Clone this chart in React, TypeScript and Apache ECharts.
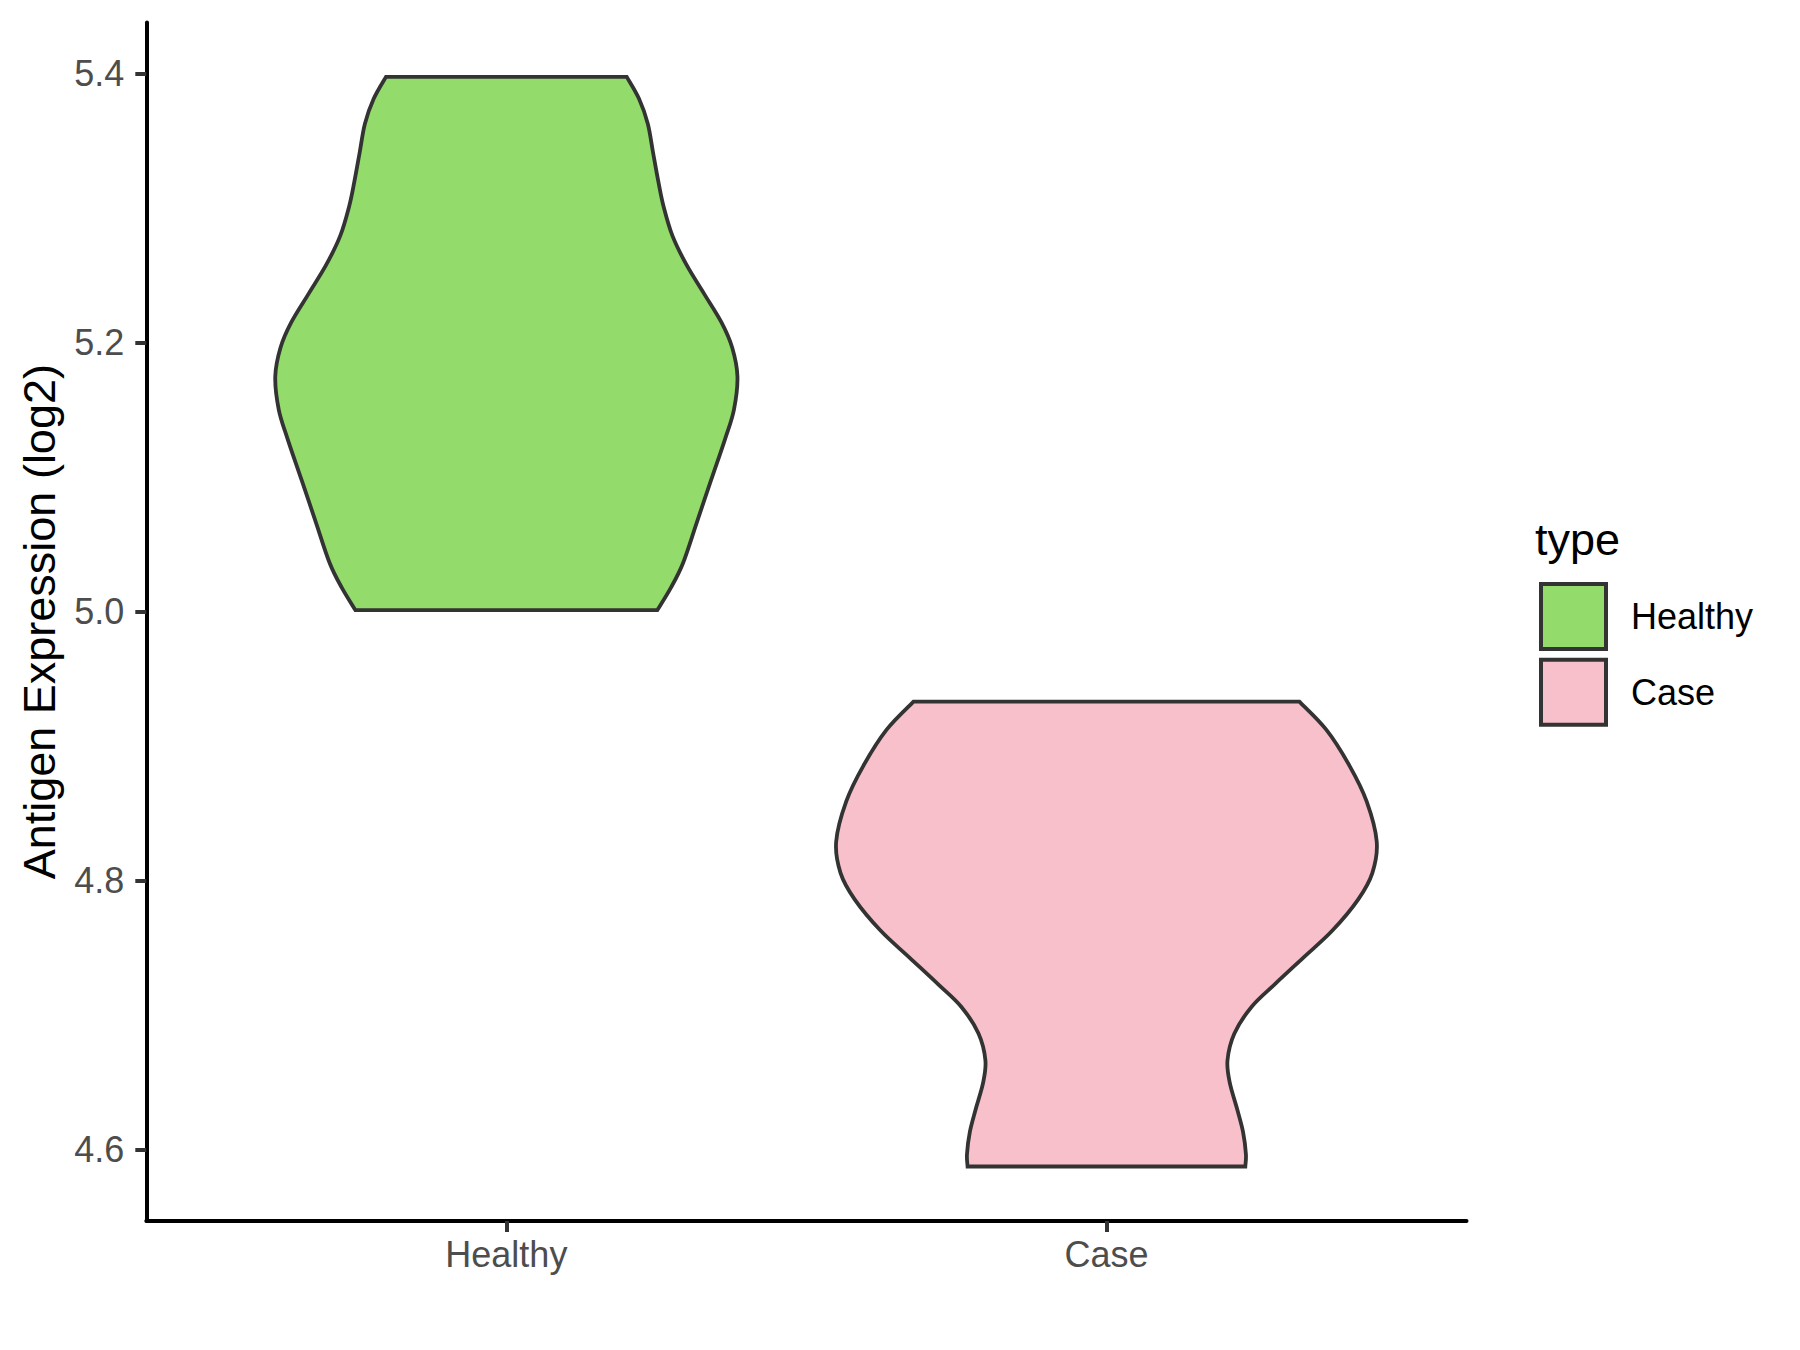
import React, { useEffect, useRef } from "react";
import * as echarts from "echarts";

// Groups on the x axis and the y-axis tick values
const CATEGORIES = ["Healthy", "Case"];
const Y_TICKS = [4.6, 4.8, 5.0, 5.2, 5.4];

// Violin outlines: expression level (log2) and half-width of the density at that level (x units)
const HEALTHY_Y = [5.3975, 5.3812, 5.3627, 5.3411, 5.3196, 5.301, 5.2795, 5.2579, 5.2364, 5.2148, 5.1963, 5.1747, 5.15, 5.1285, 5.0977, 5.0668, 5.036, 5.0175, 5.0012];
const HEALTHY_HALF = [0.2006, 0.2211, 0.2357, 0.2445, 0.2533, 0.2621, 0.2767, 0.3001, 0.3294, 0.3587, 0.3763, 0.3851, 0.3792, 0.3646, 0.3411, 0.3177, 0.2943, 0.2738, 0.2516];
const CASE_Y = [4.9331, 4.9121, 4.8856, 4.859, 4.8291, 4.8059, 4.786, 4.7628, 4.7429, 4.723, 4.7064, 4.6865, 4.6665, 4.6499, 4.63, 4.6134, 4.5969, 4.5876];
const CASE_HALF = [0.3215, 0.3666, 0.4049, 0.4336, 0.4504, 0.4432, 0.4193, 0.3761, 0.3282, 0.2803, 0.242, 0.2132, 0.2017, 0.2055, 0.218, 0.2276, 0.2324, 0.2314];

const COLORS = ["#93DB6B", "#F7C0CB"];
const OUTLINE = "#333333";
const FONT = "'Liberation Sans', Arial, Helvetica, sans-serif";

// y-range padded by 5% of the data span on both ends
const ALL_Y = [...HEALTHY_Y, ...CASE_Y];
const Y_LO = Math.min(...ALL_Y);
const Y_HI = Math.max(...ALL_Y);
const Y_PAD = (Y_HI - Y_LO) * 0.05;

type Pt = number[];

// Smooth curve through the points (Catmull-Rom as cubic Béziers)
function curveThrough(points: Pt[]): string {
  let d = "";
  for (let i = 0; i < points.length - 1; i++) {
    const p0 = points[i - 1] || points[i];
    const p1 = points[i];
    const p2 = points[i + 1];
    const p3 = points[i + 2] || points[i + 1];
    const c1x = p1[0] + (p2[0] - p0[0]) / 6;
    const c1y = p1[1] + (p2[1] - p0[1]) / 6;
    const c2x = p2[0] - (p3[0] - p1[0]) / 6;
    const c2y = p2[1] - (p3[1] - p1[1]) / 6;
    d += ` C ${c1x} ${c1y} ${c2x} ${c2y} ${p2[0]} ${p2[1]}`;
  }
  return d;
}

function violinSeries(name: string, center: number, ys: number[], half: number[], color: string) {
  return {
    type: "custom",
    name,
    coordinateSystem: "cartesian2d",
    clip: false,
    itemStyle: { color, borderColor: OUTLINE, borderWidth: 4 },
    data: [[center, ys[0]]],
    renderItem: (params: any, api: any) => {
      const cx = api.value(0);
      const right = ys.map((y, i) => api.coord([cx + half[i], y]));
      const left = ys.map((y, i) => api.coord([cx - half[i], y])).reverse();
      let d = `M ${right[0][0]} ${right[0][1]}`;
      d += curveThrough(right);
      d += ` L ${left[0][0]} ${left[0][1]}`;
      d += curveThrough(left);
      d += " Z";
      return {
        type: "path",
        shape: { pathData: d },
        style: { fill: color, stroke: OUTLINE, lineWidth: 3.8, lineJoin: "miter" },
      };
    },
  };
}

export default function App() {
  const ref = useRef<HTMLDivElement>(null);

  useEffect(() => {
    if (!ref.current) return;
    const chart = echarts.init(ref.current, null, { renderer: "svg" });
    chart.setOption({
      animation: false,
      backgroundColor: "#ffffff",
      grid: { left: 146.3, right: 333.5, top: 22.4, bottom: 129 },
      xAxis: {
        type: "value",
        min: 0.4,
        max: 2.6,
        splitLine: { show: false },
        axisLine: { show: true, lineStyle: { color: "#000000", width: 4 } },
        axisTick: {
          show: true,
          customValues: [1, 2],
          length: 11,
          lineStyle: { color: OUTLINE, width: 4 },
        },
        axisLabel: {
          customValues: [1, 2],
          formatter: (v: number) => CATEGORIES[Math.round(v) - 1] || "",
          color: "#4D4D4D",
          fontSize: 36,
          fontFamily: FONT,
          margin: 15,
        },
      },
      yAxis: {
        type: "value",
        min: Y_LO - Y_PAD,
        max: Y_HI + Y_PAD,
        splitLine: { show: false },
        axisLine: { show: true, lineStyle: { color: "#000000", width: 4 } },
        axisTick: {
          show: true,
          customValues: Y_TICKS,
          length: 11,
          lineStyle: { color: OUTLINE, width: 4 },
        },
        axisLabel: {
          customValues: Y_TICKS,
          formatter: (v: number) => v.toFixed(1),
          color: "#4D4D4D",
          fontSize: 36,
          fontFamily: FONT,
          margin: 22,
        },
      },
      legend: {
        orient: "vertical",
        left: 1539,
        top: 582,
        padding: 0,
        itemWidth: 65,
        itemHeight: 65,
        itemGap: 6.7,
        icon: "rect",
        selectedMode: false,
        itemStyle: { borderColor: OUTLINE, borderWidth: 4 },
        textStyle: { fontSize: 36, fontFamily: FONT, color: "#000000", padding: [0, 0, 0, 20] },
        data: CATEGORIES,
      },
      graphic: [
        {
          type: "text",
          x: 39.5,
          y: 621.7,
          rotation: Math.PI / 2,
          style: {
            text: "Antigen Expression (log2)",
            fontSize: 45,
            fontFamily: FONT,
            fill: "#000000",
            align: "center",
            verticalAlign: "middle",
          },
        },
        {
          type: "text",
          x: 1535,
          y: 539,
          style: {
            text: "type",
            fontSize: 45,
            fontFamily: FONT,
            fill: "#000000",
            align: "left",
            verticalAlign: "middle",
          },
        },
      ],
      series: [
        violinSeries(CATEGORIES[0], 1, HEALTHY_Y, HEALTHY_HALF, COLORS[0]),
        violinSeries(CATEGORIES[1], 2, CASE_Y, CASE_HALF, COLORS[1]),
      ],
    });
    return () => chart.dispose();
  }, []);

  return (
    <div
      ref={ref}
      style={{ position: "absolute", left: 0, top: 0, width: 1800, height: 1350, background: "#ffffff" }}
    />
  );
}
